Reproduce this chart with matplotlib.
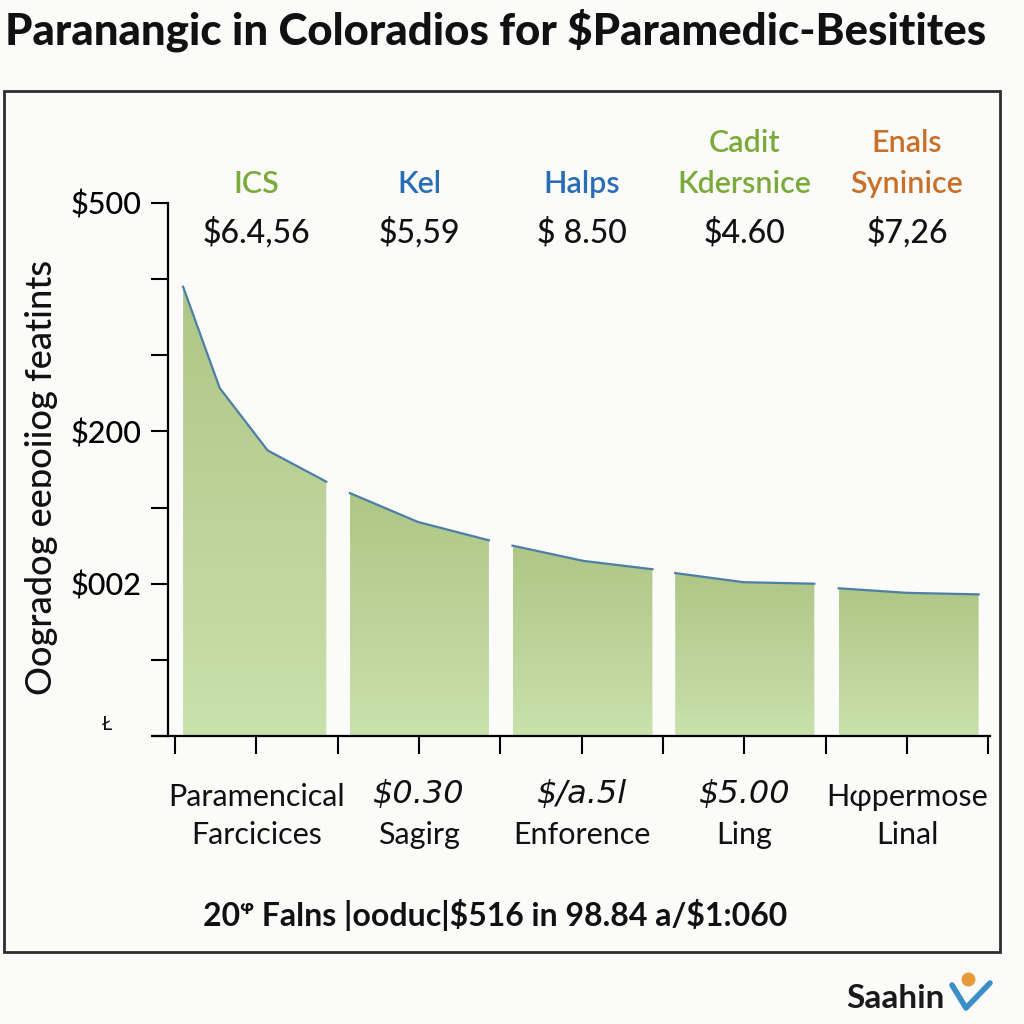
import matplotlib
matplotlib.use("Agg")
import matplotlib.pyplot as plt
from matplotlib.patches import Polygon, Rectangle
from matplotlib.lines import Line2D
import numpy as np

plt.rcParams['text.parse_math'] = False
plt.rcParams['font.family'] = ['Lato', 'DejaVu Sans']

# curve segments (x in tick units, y in tick units)
seg_x = [
    [0.1, 0.55, 1.14, 1.86],
    [2.15, 2.99, 3.86],
    [4.15, 5.02, 5.87],
    [6.15, 6.99, 7.86],
    [8.16, 9.0, 9.88],
]
seg_y = [
    [5.9, 4.57, 3.75, 3.34],
    [3.19, 2.81, 2.57],
    [2.5, 2.3, 2.19],
    [2.14, 2.02, 2.0],
    [1.94, 1.88, 1.86],
]

cat_names = ["ICS", "Kel", "Halps", "Cadit\nKdersnice", "Enals\nSyninice"]
cat_colors = ["#7aab3a", "#2a6db5", "#2a6db5", "#7aab3a", "#c8702a"]
cat_values = ["$6.4,56", "$5,59", "$ 8.50", "$4.60", "$7,26"]
cat_pos = [1, 3, 5, 7, 9]

x_top = ["Paramencical", "$0.30", "$/a.5l", "$5.00", "Hφpermose"]
x_bottom = ["Farcicices", "Sagirg", "Enforence", "Ling", "Linal"]
x_top_italic = [False, True, True, True, False]

y_ticks = [0, 1, 2, 3, 4, 5, 6, 7]
y_labels = ["", "", "$002", "", "$200", "", "", "$500"]

title = "Paranangic in Coloradios for $Paramedic-Besitites"
ylabel = "Oogradog eeɒoiiog featints"
footer = "20ᵠ Falns |ooduc|$516 in 98.84 a/$1:060"

bg = "#fbfbfa"
fig = plt.figure(figsize=(10.24, 10.24), dpi=100, facecolor=bg)

# outer box
fig.patches.append(Rectangle((4 / 1024, 1 - 952 / 1024), 996 / 1024, (952 - 91) / 1024,
                             transform=fig.transFigure, fill=False,
                             edgecolor="#2e2e2e", lw=2, zorder=0))

ax = fig.add_axes([153 / 1024, 1 - 736 / 1024, (990 - 153) / 1024, (736 - 203) / 1024])
ax.set_facecolor("none")
ax.set_xlim(-0.27, 10.02)
ax.set_ylim(0, 7)

for sp in ["top", "right"]:
    ax.spines[sp].set_visible(False)
ax.spines["left"].set_position(("data", -0.086))
ax.spines["left"].set_bounds(0, 7)
ax.spines["left"].set_linewidth(1.6)
ax.spines["bottom"].set_linewidth(1.6)

ax.set_xticks(range(11))
ax.set_xticklabels([])
ax.tick_params(axis="x", direction="out", length=13, width=1.5)
ax.set_yticks(y_ticks)
ax.set_yticklabels(y_labels, fontsize=22, fontweight="medium")
ax.tick_params(axis="y", direction="out", length=12, width=1.5, pad=7)

grad = np.linspace(0, 1, 256).reshape(-1, 1)
cmap = matplotlib.colors.LinearSegmentedColormap.from_list("g", ["#c9e1ab", "#aec686"])
for xs, ys in zip(seg_x, seg_y):
    verts = [(xs[0], 0)] + list(zip(xs, ys)) + [(xs[-1], 0)]
    poly = Polygon(verts, closed=True, facecolor="none", edgecolor="none")
    ax.add_patch(poly)
    im = ax.imshow(grad, extent=[xs[0], xs[-1], 0, max(ys)], origin="lower",
                   cmap=cmap, aspect="auto", zorder=1)
    im.set_clip_path(poly)
    ax.plot(xs, ys, color="#4d7fa6", lw=1.6, zorder=2)

# category headers
for p, n, c, v in zip(cat_pos, cat_names, cat_colors, cat_values):
    xf = ax.transData.transform((p, 0))[0] / 1024
    lines = n.split("\n")
    if len(lines) == 2:
        fig.text(xf, 1 - 143 / 1024, lines[0], color=c, fontsize=22, fontweight="semibold",
                 ha="center", va="center")
    fig.text(xf, 1 - 184 / 1024, lines[-1], color=c, fontsize=22, fontweight="semibold",
             ha="center", va="center")
    fig.text(xf, 1 - 233 / 1024, v, color="#111111", fontsize=23, fontweight="medium",
             ha="center", va="center")

# x labels
for p, t, b, it in zip(cat_pos, x_top, x_bottom, x_top_italic):
    xf = ax.transData.transform((p, 0))[0] / 1024
    if it:
        fig.text(xf, 1 - 795 / 1024, t, fontsize=23, style="italic", ha="center", va="center",
                 family=["DejaVu Sans"], color="#111111")
    else:
        fig.text(xf, 1 - 797 / 1024, t, fontsize=22, ha="center", va="center", color="#111111")
    fig.text(xf, 1 - 835 / 1024, b, fontsize=22, ha="center", va="center", color="#111111")

fig.text(42 / 1024, 1 - 477 / 1024, ylabel, rotation=90, fontsize=26, fontweight="medium",
         ha="center", va="center", color="#111111")
fig.text(107 / 1024, 1 - 724 / 1024, "Ł", fontsize=14, ha="center", va="center", color="#111111")

fig.text(5 / 1024, 1 - 30 / 1024, title, fontsize=31.5, fontweight="black", ha="left", va="center",
         color="#111111")
fig.text(495 / 1024, 1 - 915 / 1024, footer, fontsize=23, fontweight="bold", ha="center",
         va="center", color="#111111")

# logo
fig.text(945 / 1024, 1 - 998 / 1024, "Saahin", fontsize=24, fontweight="bold", ha="right",
         va="center", color="#1a1a1a")
fig.add_artist(Line2D([952 / 1024, 966 / 1024, 990 / 1024], [1 - 985 / 1024, 1 - 1008 / 1024, 1 - 983 / 1024],
                      transform=fig.transFigure, color="#3a8fc8", lw=4, solid_capstyle="round"))
fig.add_artist(Line2D([968 / 1024], [1 - 979 / 1024], transform=fig.transFigure, marker="o",
                      markersize=9, color="#e89a3a", lw=0))

fig.savefig("out.png", dpi=100, facecolor=bg)
